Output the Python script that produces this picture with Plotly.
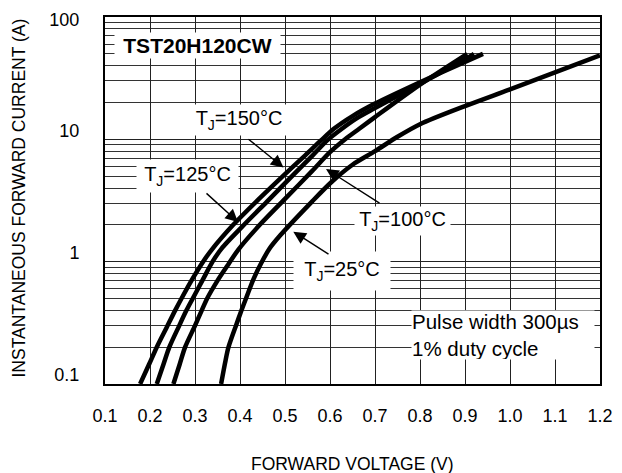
import plotly.graph_objects as go

# ---- data ----
v_150 = [0.178, 0.198, 0.215, 0.237, 0.256, 0.270, 0.294, 0.318, 0.337, 0.385, 0.44, 0.50, 0.545, 0.58, 0.61, 0.65, 0.70, 0.80, 0.90, 0.94]
i_150 = [0.1, 0.145, 0.2, 0.29, 0.4, 0.5, 0.72, 1.0, 1.25, 2.0, 3.2, 5.2, 7.4, 9.8, 12.3, 15.5, 19.6, 29.3, 43, 50]

v_125 = [0.215, 0.230, 0.243, 0.265, 0.281, 0.295, 0.318, 0.339, 0.359, 0.41, 0.46, 0.52, 0.56, 0.595, 0.625, 0.66, 0.70, 0.80, 0.90, 0.92]
i_125 = [0.1, 0.145, 0.2, 0.3, 0.4, 0.5, 0.72, 1.0, 1.28, 2.02, 3.1, 5.2, 7.3, 9.9, 12.1, 14.9, 18, 28.5, 45, 50]

v_100 = [0.252, 0.266, 0.278, 0.300, 0.315, 0.327, 0.350, 0.374, 0.396, 0.444, 0.50, 0.56, 0.60, 0.635, 0.665, 0.70, 0.80, 0.905]
i_100 = [0.1, 0.145, 0.2, 0.3, 0.4, 0.5, 0.7, 0.95, 1.25, 2.0, 3.26, 5.5, 7.85, 10.1, 12.2, 15.2, 28.0, 50]

v_25 = [0.358, 0.367, 0.3744, 0.391, 0.4033, 0.4133, 0.43, 0.447, 0.465, 0.49, 0.56, 0.604, 0.65, 0.70, 0.75, 0.80, 0.90, 1.00, 1.10, 1.20]
i_25 = [0.1, 0.15, 0.2, 0.3, 0.4, 0.5, 0.72, 0.97, 1.27, 1.65, 3.1, 4.5, 6.2, 8.0, 10.5, 13.3, 18.7, 25.6, 35.3, 48.5]

x_ticks = [0.1, 0.2, 0.3, 0.4, 0.5, 0.6, 0.7, 0.8, 0.9, 1.0, 1.1, 1.2]
y_ticks = [0.1, 1, 10, 100]
y_ticktext = ["0.1", "1", "10", "<br>100"]
y_minor = [m * d for d in (0.1, 1, 10) for m in range(2, 10)]

x_title = "FORWARD VOLTAGE (V)"
y_title = "INSTANTANEOUS FORWARD CURRENT (A)"

series = [(v_150, i_150), (v_125, i_125), (v_100, i_100), (v_25, i_25)]

FONT = "Arial, Liberation Sans, sans-serif"

fig = go.Figure()
for v, i in series:
    fig.add_trace(go.Scatter(x=v, y=i, mode="lines",
                             line=dict(color="black", width=4.5, shape="spline", smoothing=0.8),
                             showlegend=False, hoverinfo="skip"))

def py_to_log(py):
    return 2 - (py - 17) / 122.333

def px_to_v(px):
    return 0.1 + (px - 105) / 450

# label boxes: (text, x, y(px), width, height, font size, align)
labels = [
    ("<b>TST20H120CW</b>", 0.3056, 45, 165, 25, 21, "center"),
    ("T<sub>J</sub>=150°C", 0.3978, 120, 98, 30, 20, "center"),
    ("T<sub>J</sub>=125°C", 0.2844, 176, 101, 32, 20, "center"),
    ("T<sub>J</sub>=100°C", 0.76, 221, 95, 28, 20, "center"),
    ("T<sub>J</sub>=25°C", 0.6267, 271, 96, 38, 20, "center"),
    ("Pulse width 300µs<br>1% duty cycle", 0.9844, 335, 182, 48, 20.5, "left"),
]
for text, x, py, w, h, fs, al in labels:
    fig.add_annotation(x=x, y=py_to_log(py), xref="x", yref="y", text=text, showarrow=False,
                       font=dict(family=FONT, size=fs, color="black"), bgcolor="white",
                       width=w, height=h, align=al, borderpad=0)

# arrows: (tail px, tail py, head px, head py)
arrows = [
    (247, 138, 283.5, 167.5),
    (205, 192, 238, 222),
    (381, 204, 326, 169),
    (330, 255, 293.3, 231.7),
]
for tx, ty, hx, hy in arrows:
    fig.add_annotation(x=px_to_v(hx), y=py_to_log(hy), ax=px_to_v(tx), ay=py_to_log(ty),
                       xref="x", yref="y", axref="x", ayref="y", text="", showarrow=True,
                       arrowhead=2, arrowsize=1.8, arrowwidth=1.4, arrowcolor="black", standoff=0)

# axis titles
fig.add_annotation(text=x_title, xref="paper", yref="paper", x=0.5, y=0, yshift=-80,
                   showarrow=False, xanchor="center", yanchor="middle",
                   font=dict(family=FONT, size=17.5, color="black"))
fig.add_annotation(text=y_title, xref="paper", yref="paper", x=0, y=0.5, xshift=-87, yshift=2,
                   textangle=-90, showarrow=False, xanchor="center", yanchor="middle",
                   font=dict(family=FONT, size=17.5, color="black"))

fig.update_xaxes(range=[0.1, 1.2], tickvals=x_ticks, tickformat=".1f", showgrid=True,
                 gridcolor="#222", gridwidth=1, zeroline=False, showline=True, mirror=True,
                 linecolor="black", linewidth=2, ticks="", ticklabelstandoff=14, automargin=False,
                 tickfont=dict(family=FONT, size=18, color="black"))
fig.update_yaxes(type="log", range=[-1, 2], tickvals=y_ticks, ticktext=y_ticktext, showgrid=True,
                 gridcolor="#222", gridwidth=1, zeroline=False, showline=True, mirror=True,
                 linecolor="black", linewidth=2, ticks="", ticklabelstandoff=20, ticklabelshift=-9,
                 automargin=False,
                 minor=dict(tickvals=y_minor, showgrid=True, gridcolor="#333", gridwidth=1, ticks=""),
                 tickfont=dict(family=FONT, size=18, color="black"))

# the page body has an 8px margin, so the figure is 8px smaller than the window
fig.update_layout(width=614, height=465, margin=dict(l=97, r=22, t=9, b=89, autoexpand=False),
                  plot_bgcolor="white", paper_bgcolor="white", showlegend=False)

fig.write_html("out.html")
